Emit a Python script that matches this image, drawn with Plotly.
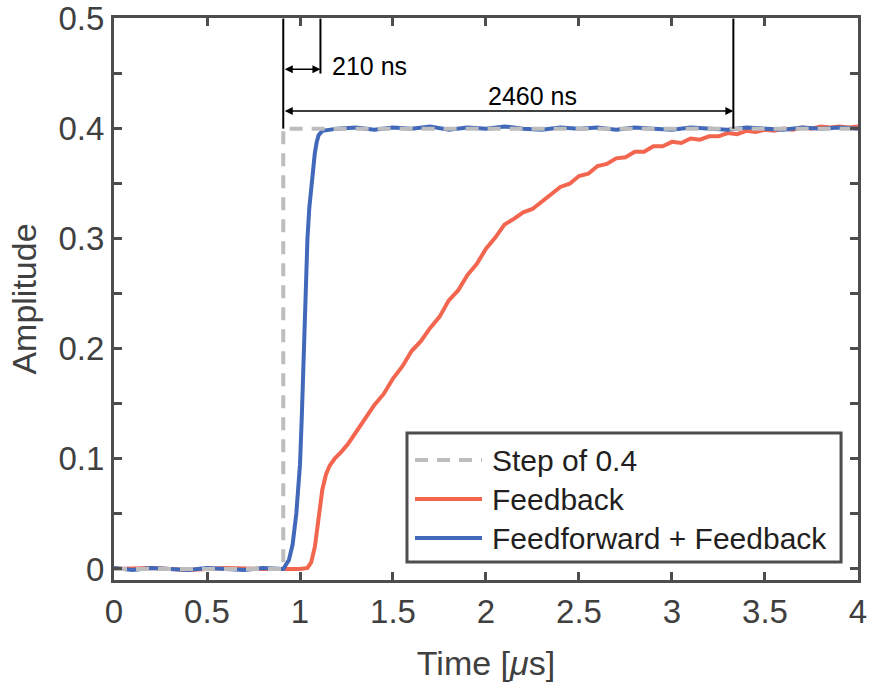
import plotly.graph_objects as go

# ---------------- data ----------------
ff_t = [0.0, 0.1, 0.2, 0.3, 0.4, 0.5, 0.6, 0.7, 0.8, 0.9, 0.91, 0.94, 0.96, 0.98, 1.0, 1.01, 1.02, 1.03,
        1.04, 1.05, 1.06, 1.07, 1.08, 1.09, 1.10, 1.12, 1.15, 1.2, 1.3, 1.4, 1.5, 1.6, 1.7, 1.8, 1.9, 2.0,
        2.1, 2.2, 2.3, 2.4, 2.5, 2.6, 2.7, 2.8, 2.9, 3.0, 3.1, 3.2, 3.3, 3.4, 3.5, 3.6, 3.7, 3.8, 3.9, 4.0]
ff_y = [0.001, -0.001, 0.001, 0.0, -0.001, 0.001, 0.0, -0.001, 0.001, 0.0, 0.0, 0.008, 0.022, 0.05, 0.095,
        0.14, 0.2, 0.255, 0.3, 0.328, 0.348, 0.365, 0.378, 0.388, 0.394, 0.398, 0.399, 0.4, 0.401, 0.399,
        0.401, 0.4, 0.402, 0.399, 0.401, 0.4, 0.402, 0.4, 0.399, 0.401, 0.4, 0.401, 0.399, 0.401, 0.4,
        0.399, 0.401, 0.4, 0.399, 0.401, 0.4, 0.399, 0.401, 0.4, 0.401, 0.4]

fb_t = [0.0, 0.2, 0.4, 0.6, 0.8, 1.0, 1.04, 1.06, 1.08, 1.1, 1.12, 1.14, 1.16, 1.19, 1.22, 1.26,
        1.3, 1.35, 1.4, 1.45, 1.5, 1.55, 1.6, 1.65, 1.7, 1.75, 1.8, 1.85, 1.9, 1.95, 2.0, 2.05, 2.1,
        2.15, 2.2, 2.25, 2.3, 2.35, 2.4, 2.45, 2.5, 2.55, 2.6, 2.65, 2.7, 2.75, 2.8, 2.85, 2.9, 2.95,
        3.0, 3.05, 3.1, 3.15, 3.2, 3.25, 3.3, 3.35, 3.4, 3.45, 3.5, 3.55, 3.6, 3.65, 3.7, 3.75, 3.8,
        3.85, 3.9, 3.95, 4.0]
fb_y = [0.0, 0.001, -0.001, 0.001, 0.0, 0.0, 0.001, 0.006, 0.02, 0.045, 0.072, 0.086, 0.094, 0.101,
        0.106, 0.114,
        0.124, 0.136, 0.149, 0.159, 0.173, 0.184, 0.198, 0.207, 0.219, 0.229, 0.244, 0.253, 0.267, 0.277,
        0.291, 0.301, 0.313, 0.318, 0.324, 0.327, 0.334, 0.340, 0.347, 0.350, 0.357, 0.359, 0.366, 0.368,
        0.373, 0.374, 0.379, 0.379, 0.384, 0.384, 0.388, 0.387, 0.391, 0.390, 0.393, 0.393, 0.396, 0.395,
        0.398, 0.397, 0.399, 0.398, 0.400, 0.399, 0.401, 0.400, 0.402, 0.401, 0.402, 0.401, 0.402]

step_t = [0.0, 0.91, 0.91, 4.0]
step_y = [0.0, 0.0, 0.4, 0.4]

series_names = ["Step of 0.4", "Feedback", "Feedforward + Feedback"]

x_ticks = [0, 0.5, 1, 1.5, 2, 2.5, 3, 3.5, 4]
x_tick_text = ["0", "0.5", "1", "1.5", "2", "2.5", "3", "3.5", "4"]
y_ticks = [0, 0.05, 0.1, 0.15, 0.2, 0.25, 0.3, 0.35, 0.4, 0.45, 0.5]
y_tick_text = ["0", "", "0.1", "", "0.2", "", "0.3", "", "0.4", "", "0.5"]

step_time = 0.91
ff_settle = 1.11
fb_settle = 3.33
ann_210 = "210 ns"
ann_2460 = "2460 ns"

# ---------------- style ----------------
RED = "#F2654E"
BLUE = "#4168B9"
GRAY = "#BDBDBD"
AX = "#4D4D4D"
FONT = "Liberation Sans"

fig = go.Figure()
fig.add_trace(go.Scatter(x=fb_t, y=fb_y, mode="lines", name=series_names[1],
                         line=dict(color=RED, width=4), showlegend=False))
fig.add_trace(go.Scatter(x=ff_t, y=ff_y, mode="lines", name=series_names[2],
                         line=dict(color=BLUE, width=4), showlegend=False))
fig.add_trace(go.Scatter(x=step_t, y=step_y, mode="lines", name=series_names[0],
                         line=dict(color=GRAY, width=4, dash="13px,9px"), showlegend=False))

# annotation guide lines
fig.add_shape(type="line", x0=step_time, x1=step_time, y0=0.4, y1=0.5, xref="x", yref="y",
              line=dict(color="black", width=2))
fig.add_shape(type="line", x0=ff_settle, x1=ff_settle, y0=0.45, y1=0.5, xref="x", yref="y",
              line=dict(color="black", width=2))
fig.add_shape(type="line", x0=fb_settle, x1=fb_settle, y0=0.4, y1=0.5, xref="x", yref="y",
              line=dict(color="black", width=2))

# double arrows
fig.add_annotation(x=ff_settle, y=0.454, ax=step_time, ay=0.454, xref="x", yref="y", axref="x", ayref="y",
                   text="", showarrow=True, arrowhead=2, startarrowhead=2, arrowside="end+start",
                   arrowsize=1, arrowwidth=1.6, arrowcolor="black")
fig.add_annotation(x=fb_settle, y=0.416, ax=step_time, ay=0.416, xref="x", yref="y", axref="x", ayref="y",
                   text="", showarrow=True, arrowhead=2, startarrowhead=2, arrowside="end+start",
                   arrowsize=1, arrowwidth=1.6, arrowcolor="black")
fig.add_annotation(x=ff_settle + 0.05, y=0.457, text=ann_210, showarrow=False, xanchor="left",
                   yanchor="middle", font=dict(family=FONT, size=25, color="black"))
fig.add_annotation(x=2.25, y=0.43, text=ann_2460, showarrow=False,
                   xanchor="center", yanchor="middle", font=dict(family=FONT, size=25, color="black"))

# manual legend (paper coords)
fig.add_shape(type="rect", xref="paper", yref="paper", x0=0.3938, x1=0.9772, y0=0.032, y1=0.2616,
              line=dict(color=AX, width=3), fillcolor="white")
leg_rows = [0.2135, 0.1441, 0.0747]
leg_styles = [dict(color=GRAY, width=4, dash="13px,9px"), dict(color=RED, width=4), dict(color=BLUE, width=4)]
for yy, st, nm in zip(leg_rows, leg_styles, series_names):
    fig.add_shape(type="line", xref="paper", yref="paper", x0=0.4046, x1=0.4946, y0=yy, y1=yy, line=st)
    fig.add_annotation(xref="paper", yref="paper", x=0.5054, y=yy, text=nm, showarrow=False,
                       xanchor="left", yanchor="middle", font=dict(family=FONT, size=30, color="#231F20"))

axis_common = dict(showline=True, linecolor=AX, linewidth=3, mirror="ticks", ticks="inside",
                   ticklen=8, tickwidth=2.5, tickcolor=AX, showgrid=False, zeroline=False,
                   ticklabeloverflow="allow", automargin=False,
                   tickfont=dict(family=FONT, size=33, color="#404040"))

fig.update_xaxes(range=[0, 4.0001], tickvals=x_ticks, ticktext=x_tick_text,
                 title=dict(text="Time [<i>μ</i>s]", font=dict(family=FONT, size=34, color="#404040"),
                            standoff=23),
                 **axis_common)
fig.update_yaxes(range=[-0.01, 0.5005], tickvals=y_ticks, ticktext=y_tick_text,
                 title=dict(text="Amplitude", font=dict(family=FONT, size=34, color="#404040"),
                            standoff=12),
                 **axis_common)

fig.update_layout(width=869, height=689, margin=dict(l=114, r=11, t=18, b=109),
                  plot_bgcolor="white", paper_bgcolor="white", showlegend=False)

# remove the page's default 8px body margin so the figure fills the window exactly
fig.write_html("out.html", config={"displayModeBar": False},
               post_script="document.body.style.margin='0';document.body.style.overflow='hidden';")
